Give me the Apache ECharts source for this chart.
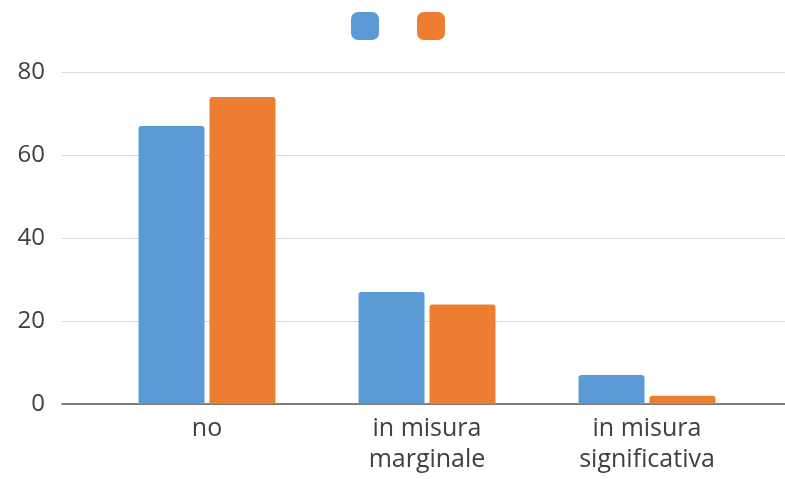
<!DOCTYPE html>
<html>
<head>
<meta charset="utf-8">
<script src="https://cdn.jsdelivr.net/npm/echarts@6/dist/echarts.min.js"></script>
<style>html,body{margin:0;padding:0;background:#fff}#c{width:785px;height:479px}</style>
</head>
<body>
<div id="c"></div>
<script>
const categories = ['no', 'in misura\nmarginale', 'in misura\nsignificativa'];
const seriesNames = ['A', 'B'];
const seriesA = [67, 27, 7];
const seriesB = [74, 24, 2];
const yTicks = [0, 20, 40, 60, 80];

const chart = echarts.init(document.getElementById('c'), null, {renderer: 'canvas'});
const font = 'Open Sans';
chart.setOption({
  animation: false,
  backgroundColor: '#ffffff',
  legend: {
    data: seriesNames,
    left: 346, top: 7,
    itemWidth: 28, itemHeight: 28, itemGap: 38,
    formatter: () => '',
    icon: 'roundRect',
    textStyle: {fontSize: 1}
  },
  grid: [
    {left: 62, right: 0, top: 72, bottom: 75, outerBoundsMode: 'none', containLabel: false},
    {left: 97, right: 28, top: 72, bottom: 75, outerBoundsMode: 'none', containLabel: false}
  ],
  xAxis: [
    {gridIndex: 0, type: 'category', data: categories, axisTick: {show: false}, axisLabel: {show: false},
     axisLine: {lineStyle: {color: '#595959', width: 1.5}}},
    {gridIndex: 1, type: 'category', data: categories, axisTick: {show: false}, axisLine: {show: false},
     axisLabel: {color: '#404040', fontFamily: font, fontSize: 25, lineHeight: 31, margin: 9}}
  ],
  yAxis: [
    {gridIndex: 0, type: 'value', min: yTicks[0], max: yTicks[yTicks.length-1], interval: 20,
     axisLabel: {color: '#404040', fontFamily: font, fontSize: 24, margin: 17},
     splitLine: {lineStyle: {color: '#d9d9d9', width: 1}}, axisLine: {show: false}, axisTick: {show: false}},
    {gridIndex: 1, type: 'value', min: yTicks[0], max: yTicks[yTicks.length-1], interval: 20,
     show: false, splitLine: {show: false}}
  ],
  series: [
    {name: seriesNames[0], type: 'bar', xAxisIndex: 1, yAxisIndex: 1, data: seriesA, barWidth: 66, barGap: '7.5%',
     itemStyle: {color: '#5B9BD5', borderRadius: [3,3,0,0]}},
    {name: seriesNames[1], type: 'bar', xAxisIndex: 1, yAxisIndex: 1, data: seriesB, barWidth: 66,
     itemStyle: {color: '#ED7D31', borderRadius: [3,3,0,0]}}
  ]
});
</script>
</body>
</html>
